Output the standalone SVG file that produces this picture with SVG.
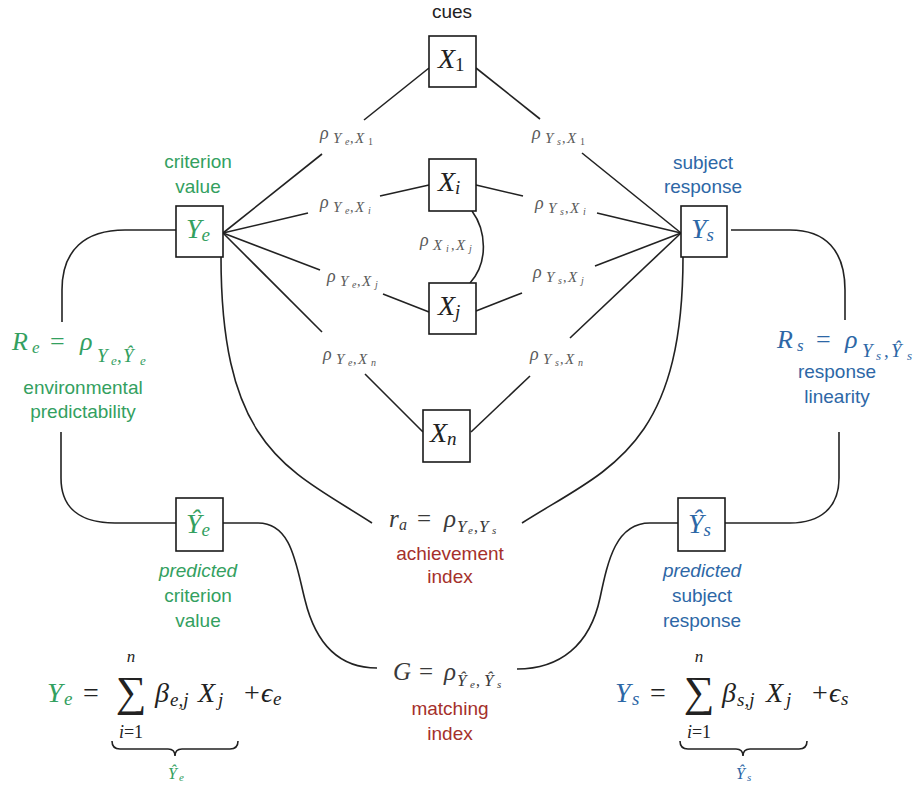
<svg xmlns="http://www.w3.org/2000/svg" width="917" height="790" viewBox="0 0 917 790">
<style>
.bg{fill:#ffffff}
.box{fill:#ffffff;stroke:#1a1a1a;stroke-width:1.6}
.ln{fill:none;stroke:#222222;stroke-width:1.6}
.m{font-family:"Liberation Serif","DejaVu Serif",serif}
.i{font-style:italic}
.lab{font-family:"Liberation Serif","DejaVu Serif",serif;fill:#5a5a5a}
.s{font-family:"Liberation Sans",Arial,sans-serif;font-size:19px;text-anchor:middle}
.g{fill:#33a060}
.b{fill:#2d67a6}
.r{fill:#a5302b}
.k{fill:#222222}
.f{fill:#3a3a3a}
</style>
<rect class="bg" x="0" y="0" width="917" height="790"/>

<g id="connectors">
  <polyline class="ln" points="223,233 322,154"/><polyline class="ln" points="364,120 429,68"/>
  <polyline class="ln" points="223,233 308,213"/><polyline class="ln" points="380,196 429,185"/>
  <polyline class="ln" points="223,233 320,270"/><polyline class="ln" points="383,294 429,312"/>
  <polyline class="ln" points="223,233 322,332"/><polyline class="ln" points="365,374 423,432"/>
  <polyline class="ln" points="681,233 582,153"/><polyline class="ln" points="540,119 476,68"/>
  <polyline class="ln" points="681,233 597,213"/><polyline class="ln" points="523,196 476,185"/>
  <polyline class="ln" points="681,233 595,266"/><polyline class="ln" points="522,293 476,311"/>
  <polyline class="ln" points="681,233 570,338"/><polyline class="ln" points="530,376 471,432"/>
  <path class="ln" d="M472,211 C486,230 489,262 470,283"/>
  <path class="ln" d="M221,257 C221,450 290,470 372,523"/>
  <path class="ln" d="M683,257 C683,450 605,470 522,523"/>
  <path class="ln" d="M176,230 H125 C85,230 62,250 62,290 V322"/>
  <path class="ln" d="M61,432 V478 C61,508 80,523 115,523 H176"/>
  <path class="ln" d="M731,230 H790 C825,230 845,250 845,290 V320"/>
  <path class="ln" d="M839,432 V478 C839,508 820,523 790,523 H725"/>
  <path class="ln" d="M223,523 H258 C292,523 296,565 305,600 C316,645 340,668 377,668"/>
  <path class="ln" d="M678,523 H650 C616,523 608,560 600,598 C590,645 560,669 517,669"/>
</g>

<g id="edge-labels">
  <text class="lab" y="139"><tspan class="i" font-size="18" x="320">ρ</tspan><tspan class="i" font-size="15" x="333" dy="4">Y</tspan><tspan class="i" font-size="10" x="345" dy="2">e</tspan><tspan font-size="14" x="350" dy="-2">,</tspan><tspan class="i" font-size="15" x="355">X</tspan><tspan font-size="10" x="368" dy="2">1</tspan></text>
  <text class="lab" y="139"><tspan class="i" font-size="18" x="532">ρ</tspan><tspan class="i" font-size="15" x="545" dy="4">Y</tspan><tspan class="i" font-size="10" x="557" dy="2">s</tspan><tspan font-size="14" x="562" dy="-2">,</tspan><tspan class="i" font-size="15" x="567">X</tspan><tspan font-size="10" x="580" dy="2">1</tspan></text>
  <text class="lab" y="208"><tspan class="i" font-size="18" x="320">ρ</tspan><tspan class="i" font-size="15" x="333" dy="4">Y</tspan><tspan class="i" font-size="10" x="345" dy="2">e</tspan><tspan font-size="14" x="350" dy="-2">,</tspan><tspan class="i" font-size="15" x="355">X</tspan><tspan class="i" font-size="10" x="368" dy="2">i</tspan></text>
  <text class="lab" y="209"><tspan class="i" font-size="18" x="535">ρ</tspan><tspan class="i" font-size="15" x="548" dy="4">Y</tspan><tspan class="i" font-size="10" x="560" dy="2">s</tspan><tspan font-size="14" x="565" dy="-2">,</tspan><tspan class="i" font-size="15" x="570">X</tspan><tspan class="i" font-size="10" x="583" dy="2">i</tspan></text>
  <text class="lab" y="246"><tspan class="i" font-size="18" x="420">ρ</tspan><tspan class="i" font-size="15" x="433" dy="4">X</tspan><tspan class="i" font-size="10" x="446" dy="2">i</tspan><tspan font-size="14" x="451" dy="-2">,</tspan><tspan class="i" font-size="15" x="456">X</tspan><tspan class="i" font-size="10" x="469" dy="2">j</tspan></text>
  <text class="lab" y="282"><tspan class="i" font-size="18" x="327">ρ</tspan><tspan class="i" font-size="15" x="340" dy="4">Y</tspan><tspan class="i" font-size="10" x="352" dy="2">e</tspan><tspan font-size="14" x="357" dy="-2">,</tspan><tspan class="i" font-size="15" x="362">X</tspan><tspan class="i" font-size="10" x="375" dy="2">j</tspan></text>
  <text class="lab" y="278"><tspan class="i" font-size="18" x="533">ρ</tspan><tspan class="i" font-size="15" x="546" dy="4">Y</tspan><tspan class="i" font-size="10" x="558" dy="2">s</tspan><tspan font-size="14" x="563" dy="-2">,</tspan><tspan class="i" font-size="15" x="568">X</tspan><tspan class="i" font-size="10" x="581" dy="2">j</tspan></text>
  <text class="lab" y="360"><tspan class="i" font-size="18" x="323">ρ</tspan><tspan class="i" font-size="15" x="336" dy="4">Y</tspan><tspan class="i" font-size="10" x="348" dy="2">e</tspan><tspan font-size="14" x="353" dy="-2">,</tspan><tspan class="i" font-size="15" x="358">X</tspan><tspan class="i" font-size="10" x="371" dy="2">n</tspan></text>
  <text class="lab" y="360"><tspan class="i" font-size="18" x="530">ρ</tspan><tspan class="i" font-size="15" x="543" dy="4">Y</tspan><tspan class="i" font-size="10" x="555" dy="2">s</tspan><tspan font-size="14" x="560" dy="-2">,</tspan><tspan class="i" font-size="15" x="565">X</tspan><tspan class="i" font-size="10" x="578" dy="2">n</tspan></text>
</g>

<g id="cues-title"><text class="s k" x="452" y="18">cues</text></g>

<g id="X1">
  <rect class="box" x="429" y="36" width="47" height="51"/>
  <text class="m k" x="438" y="68" font-size="28"><tspan class="i">X</tspan><tspan font-size="19" dy="3">1</tspan></text>
</g>
<g id="Xi">
  <rect class="box" x="429" y="159" width="47" height="52"/>
  <text class="m k" x="438" y="191" font-size="28"><tspan class="i">X</tspan><tspan class="i" font-size="19" dy="3">i</tspan></text>
</g>
<g id="Xj">
  <rect class="box" x="429" y="283" width="47" height="51"/>
  <text class="m k" x="438" y="315" font-size="28"><tspan class="i">X</tspan><tspan class="i" font-size="19" dy="3">j</tspan></text>
</g>
<g id="Xn">
  <rect class="box" x="423" y="410" width="47" height="52"/>
  <text class="m k" x="430" y="442" font-size="28"><tspan class="i">X</tspan><tspan class="i" font-size="19" dy="3">n</tspan></text>
</g>

<g id="Ye">
  <text class="s g" x="198" y="168">criterion</text>
  <text class="s g" x="198" y="193">value</text>
  <rect class="box" x="176" y="206" width="47" height="51"/>
  <text class="m g" x="186" y="238" font-size="28"><tspan class="i">Y</tspan><tspan class="i" font-size="19" dy="3">e</tspan></text>
</g>
<g id="Ys">
  <text class="s b" x="703" y="169">subject</text>
  <text class="s b" x="703" y="193">response</text>
  <rect class="box" x="681" y="206" width="46" height="51"/>
  <text class="m b" x="691" y="238" font-size="28"><tspan class="i">Y</tspan><tspan class="i" font-size="19" dy="3">s</tspan></text>
</g>

<g id="Re">
  <text class="m g" y="350" font-size="26"><tspan class="i" x="12">R</tspan><tspan class="i" font-size="17" x="32" dy="3">e</tspan><tspan x="50" dy="-3">=</tspan><tspan class="i" x="80">ρ</tspan><tspan class="i" font-size="19" x="97" dy="12">Y</tspan><tspan class="i" font-size="13" x="111" dy="3">e</tspan><tspan font-size="19" x="117" dy="-3">,</tspan><tspan class="i" font-size="19" x="123">Ŷ</tspan><tspan class="i" font-size="13" x="140" dy="3">e</tspan></text>
  <text class="s g" x="83" y="394">environmental</text>
  <text class="s g" x="83" y="418">predictability</text>
</g>
<g id="Rs">
  <text class="m b" y="348" font-size="26"><tspan class="i" x="777">R</tspan><tspan class="i" font-size="17" x="797" dy="3">s</tspan><tspan x="816" dy="-3">=</tspan><tspan class="i" x="845">ρ</tspan><tspan class="i" font-size="19" x="862" dy="9">Y</tspan><tspan class="i" font-size="13" x="876" dy="3">s</tspan><tspan font-size="19" x="884" dy="-3">,</tspan><tspan class="i" font-size="19" x="891">Ŷ</tspan><tspan class="i" font-size="13" x="907" dy="3">s</tspan></text>
  <text class="s b" x="837" y="378">response</text>
  <text class="s b" x="837" y="403">linearity</text>
</g>

<g id="Ye-hat">
  <rect class="box" x="176" y="498" width="47" height="53"/>
  <text class="m g" x="186" y="533" font-size="28"><tspan class="i">Ŷ</tspan><tspan class="i" font-size="19" dy="3">e</tspan></text>
  <text class="s g i" x="198" y="577">predicted</text>
  <text class="s g" x="198" y="602">criterion</text>
  <text class="s g" x="198" y="627">value</text>
</g>
<g id="Ys-hat">
  <rect class="box" x="678" y="498" width="47" height="53"/>
  <text class="m b" x="688" y="533" font-size="28"><tspan class="i">Ŷ</tspan><tspan class="i" font-size="19" dy="3">s</tspan></text>
  <text class="s b i" x="702" y="577">predicted</text>
  <text class="s b" x="702" y="602">subject</text>
  <text class="s b" x="702" y="627">response</text>
</g>

<g id="achievement">
  <text class="m f" y="527" font-size="25"><tspan class="i" x="389">r</tspan><tspan class="i" font-size="16" x="399" dy="3">a</tspan><tspan x="417" dy="-3">=</tspan><tspan class="i" x="444">ρ</tspan><tspan class="i" font-size="17" x="457" dy="5">Y</tspan><tspan class="i" font-size="11" x="468" dy="2">e</tspan><tspan font-size="16" x="474" dy="-2">,</tspan><tspan class="i" font-size="17" x="479">Y</tspan><tspan class="i" font-size="11" x="492" dy="2">s</tspan></text>
  <text class="s r" x="450" y="560">achievement</text>
  <text class="s r" x="450" y="583">index</text>
</g>
<g id="matching">
  <text class="m f" y="680" font-size="25"><tspan class="i" x="393">G</tspan><tspan x="419">=</tspan><tspan class="i" x="444">ρ</tspan><tspan class="i" font-size="17" x="457" dy="6">Ŷ</tspan><tspan class="i" font-size="11" x="470" dy="2">e</tspan><tspan font-size="16" x="476" dy="-2">,</tspan><tspan class="i" font-size="17" x="484">Ŷ</tspan><tspan class="i" font-size="11" x="497" dy="2">s</tspan></text>
  <text class="s r" x="450" y="715">matching</text>
  <text class="s r" x="450" y="740">index</text>
</g>

<g id="formula-e">
  <text class="m g i" y="702" font-size="28"><tspan x="47">Y</tspan><tspan font-size="19" x="64" dy="3">e</tspan></text>
  <text class="m k" x="83" y="702" font-size="28">=</text>
  <text class="m k" x="131" y="706" font-size="43" text-anchor="middle">∑</text>
  <text class="m k i" x="131" y="662" font-size="17" text-anchor="middle">n</text>
  <text class="m k" x="131" y="738" font-size="18" text-anchor="middle"><tspan class="i">i</tspan>=1</text>
  <text class="m k i" y="702" font-size="28"><tspan x="155">β</tspan><tspan font-size="19" x="170" dy="4">e,j</tspan></text>
  <text class="m k i" y="702" font-size="28"><tspan x="198">X</tspan><tspan font-size="19" x="218" dy="4">j</tspan></text>
  <text class="m k" y="702" font-size="28"><tspan x="244">+</tspan><tspan class="i" x="261">ϵ</tspan><tspan class="i" font-size="19" x="273" dy="3">e</tspan></text>
  <path class="ln" d="M112,741 Q112,749 120,749 H168 Q175,749 175,756 Q175,749 182,749 H230 Q238,749 238,741"/>
  <text class="m g i" y="779" font-size="16"><tspan x="168">Ŷ</tspan><tspan font-size="11" x="179" dy="2">e</tspan></text>
</g>
<g id="formula-s">
  <text class="m b i" y="702" font-size="28"><tspan x="615">Y</tspan><tspan font-size="19" x="632" dy="3">s</tspan></text>
  <text class="m k" x="650" y="702" font-size="28">=</text>
  <text class="m k" x="699" y="706" font-size="43" text-anchor="middle">∑</text>
  <text class="m k i" x="699" y="662" font-size="17" text-anchor="middle">n</text>
  <text class="m k" x="699" y="738" font-size="18" text-anchor="middle"><tspan class="i">i</tspan>=1</text>
  <text class="m k i" y="702" font-size="28"><tspan x="722">β</tspan><tspan font-size="19" x="737" dy="4">s,j</tspan></text>
  <text class="m k i" y="702" font-size="28"><tspan x="766">X</tspan><tspan font-size="19" x="786" dy="4">j</tspan></text>
  <text class="m k" y="702" font-size="28"><tspan x="812">+</tspan><tspan class="i" x="829">ϵ</tspan><tspan class="i" font-size="19" x="841" dy="3">s</tspan></text>
  <path class="ln" d="M680,741 Q680,749 688,749 H736 Q743,749 743,756 Q743,749 750,749 H799 Q807,749 807,741"/>
  <text class="m b i" y="779" font-size="16"><tspan x="736">Ŷ</tspan><tspan font-size="11" x="747" dy="2">s</tspan></text>
</g>
</svg>
